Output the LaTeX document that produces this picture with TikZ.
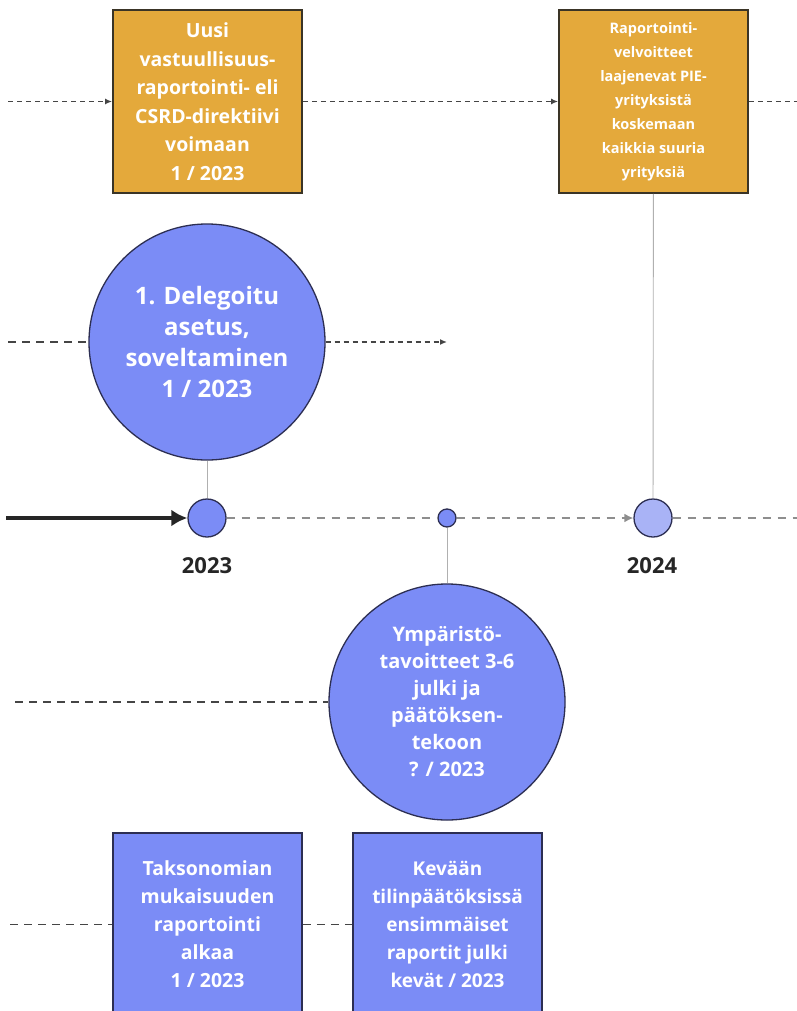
\documentclass[tikz,border=0pt]{standalone}
\usepackage{fontspec}
\setmainfont{Open Sans}
\usetikzlibrary{positioning, arrows.meta}
\definecolor{boxorange}{HTML}{E4A93B}
\definecolor{boxblue}{HTML}{7B8CF6}
\definecolor{paleblue}{HTML}{A9B3F6}
\definecolor{edgedark}{HTML}{2C2E52}
\definecolor{edgebrown}{HTML}{3A3426}
\definecolor{dashgray}{HTML}{454545}
\definecolor{axisgray}{HTML}{8E8E8E}
\definecolor{stemgray}{HTML}{B0B0B0}
\tikzset{
	orangebox/.style={draw=edgebrown, line width=1.8pt, fill=boxorange, minimum width=189pt, minimum height=183pt, inner sep=0pt, text=white, align=center},
	bluebox/.style={draw=edgedark, line width=1.5pt, fill=boxblue, minimum width=189pt, minimum height=183pt, inner sep=0pt, text=white, align=center},
	bigcircle/.style={circle, draw=edgedark, line width=1.3pt, fill=boxblue, minimum size=236pt, inner sep=0pt, text=white, align=center},
	yeardot/.style={circle, draw=edgedark, line width=1.3pt, fill=boxblue, minimum size=38pt, inner sep=0pt},
	shortdash/.style={draw=dashgray, line width=1.6pt, dash pattern=on 5pt off 4pt},
	longdash/.style={draw=dashgray, line width=1.8pt, dash pattern=on 8pt off 6pt},
	axisdash/.style={draw=axisgray, line width=2.8pt, dash pattern=on 8pt off 7pt},
	stem/.style={draw=stemgray, line width=0.9pt},
	yearlabel/.style={text=black!85, font=\bfseries\fontsize{22}{26}\selectfont}
}
\begin{document}
\begin{tikzpicture}[x=1pt, y=-1pt]
\fill [white] (0,0) rectangle (797,1011);
\useasboundingbox (0,0) rectangle (797,1011);
\clip (0,0) rectangle (797,1011);
	% Top row
\node [orangebox, font=\bfseries\fontsize{19.5}{28.5}\selectfont] (r1) at (207.5,101.5) {Uusi\\vastuullisuus-\\raportointi- eli\\CSRD-direktiivi\\voimaan\\1 / 2023};
\node [orangebox, font=\bfseries\fontsize{14.5}{24}\selectfont] (r2) at (653.5,101.5) {Raportointi-\\velvoitteet\\laajenevat PIE-\\yrityksistä\\koskemaan\\kaikkia suuria\\yrityksiä};
\coordinate (r0) at (8,101.5);
\coordinate (r3) at (797,101.5);
\draw [shortdash, -{Latex[length=7pt,width=6pt]}] (r0) -- (r1);
\draw [shortdash, -{Latex[length=7pt,width=6pt]}] (r1) -- (r2);
\draw [shortdash] (r2) -- (r3);

	% Delegated act
\node [bigcircle, font=\bfseries\fontsize{24}{31}\selectfont] (c1) at (207,342) {1. Delegoitu\\asetus,\\soveltaminen\\1 / 2023};
\coordinate (c0) at (8,342);
\coordinate (c3) at (447,342);
\draw [longdash] (c0) -- (c1);
\draw [shortdash, -{Latex[length=7pt,width=6pt]}] (c1) -- (c3);

	% Timeline
\node [yeardot] (y1) at (207,518) {};
\node [yeardot, minimum size=18pt] (ym) at (447,518) {};
\node [yeardot, fill=paleblue] (y2) at (653,518) {};
\coordinate (y0) at (6,518);
\coordinate (y3) at (797,518);
\draw [line width=4.5pt, black!85, -{Latex[length=16pt,width=17pt]}] (y0) -- (y1);
\draw [axisdash] (y1) -- (ym);
\draw [axisdash, -{Latex[length=9pt,width=9pt]}] (ym) -- (y2);
\draw [axisdash] (y2) -- (y3);
\node [yearlabel] (l1) at (207,566) {2023};
\node [yearlabel] (l2) at (652,566) {2024};
\draw [stem] (c1) -- (y1);
\draw [stem] (r2) -- (y2);

	% Environmental objectives
\node [bigcircle, font=\bfseries\fontsize{20}{27}\selectfont] (c2) at (447,702) {Ympäristö-\\tavoitteet 3-6\\julki ja\\päätöksen-\\tekoon\\? / 2023};
\coordinate (c4) at (15,702);
\draw [longdash] (c4) -- (c2);
\draw [stem] (ym) -- (c2);

	% Bottom row
\node [bluebox, font=\bfseries\fontsize{19.5}{28}\selectfont] (b1) at (207.5,924.5) {Taksonomian\\mukaisuuden\\raportointi\\alkaa\\1 / 2023};
\node [bluebox, font=\bfseries\fontsize{19}{28}\selectfont] (b2) at (447.5,924.5) {Kevään\\tilinpäätöksissä\\ensimmäiset\\raportit julki\\kevät / 2023};
\coordinate (b0) at (10,924.5);
\draw [longdash] (b0) -- (b1);
\draw [longdash] (b1) -- (b2);
\end{tikzpicture}
\end{document}
